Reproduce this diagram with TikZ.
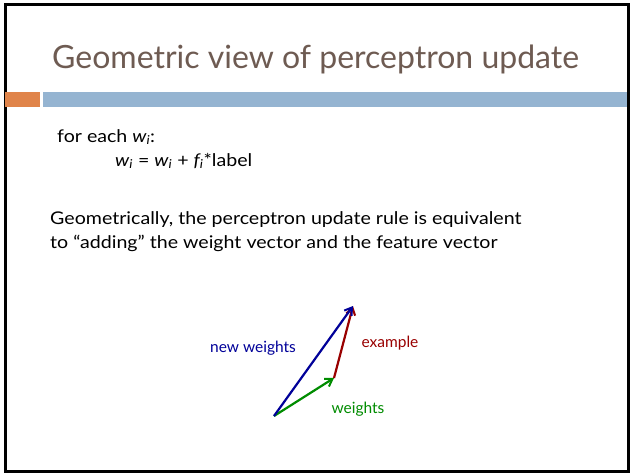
\documentclass[tikz,border=0pt]{standalone}
\usepackage{fontspec}
\setmainfont{Lato}
\newfontfamily\bodyfont[FakeStretch=1.12]{Lato}
\usetikzlibrary{arrows.meta}
\definecolor{titlec}{HTML}{6E5B52}
\definecolor{orangebar}{HTML}{E0844A}
\definecolor{bluebar}{HTML}{95B4D1}
\definecolor{nwblue}{HTML}{000099}
\definecolor{exred}{HTML}{990000}
\definecolor{wgreen}{HTML}{008C00}
\tikzset{
  vec/.style={line width=2.2pt, -{Straight Barb[length=7pt,width=9pt,line width=2pt]}},
  body/.style={anchor=base west, inner sep=0pt, font=\bodyfont\fontsize{17.5}{20}\selectfont},
  lbl/.style={inner sep=0pt, font=\fontsize{15.5}{18}\selectfont}
}
\begin{document}
\begin{tikzpicture}[x=1pt,y=-1pt]
\useasboundingbox (0,0) rectangle (632,474);
\fill[white] (0,0) rectangle (632,474);
\draw[line width=3pt] (5,4) rectangle (628,471);
\fill[orangebar] (5,92) rectangle (40,107);
\fill[bluebar] (43,92) rectangle (627,107);
\node[anchor=base west, inner sep=0pt, text=titlec, font=\fontsize{32}{36}\selectfont] (title) at (52,68) {Geometric view of perceptron update};
\node[body] (t1) at (57,142) {for each \textit{w\textsubscript{i}}:};
\node[body] (t2) at (115,166) {\textit{w\textsubscript{i}} = \textit{w\textsubscript{i}} + \textit{f\textsubscript{i}}*label};
\node[body] (t3) at (50,224) {Geometrically, the perceptron update rule is equivalent};
\node[body] (t4) at (50,248) {to “adding” the weight vector and the feature vector};
\coordinate (o) at (274,416);
\coordinate (w) at (334,378);
\coordinate (n) at (353,306);
\draw[vec, wgreen] (o) -- (w);
\draw[vec, exred] (w) -- (n);
\draw[vec, nwblue] (o) -- (n);
\node[lbl, text=nwblue] (lnw) at (253,348) {new weights};
\node[lbl, text=exred] (lex) at (390,343) {example};
\node[lbl, text=wgreen] (lw) at (358,409) {weights};
\end{tikzpicture}
\end{document}
